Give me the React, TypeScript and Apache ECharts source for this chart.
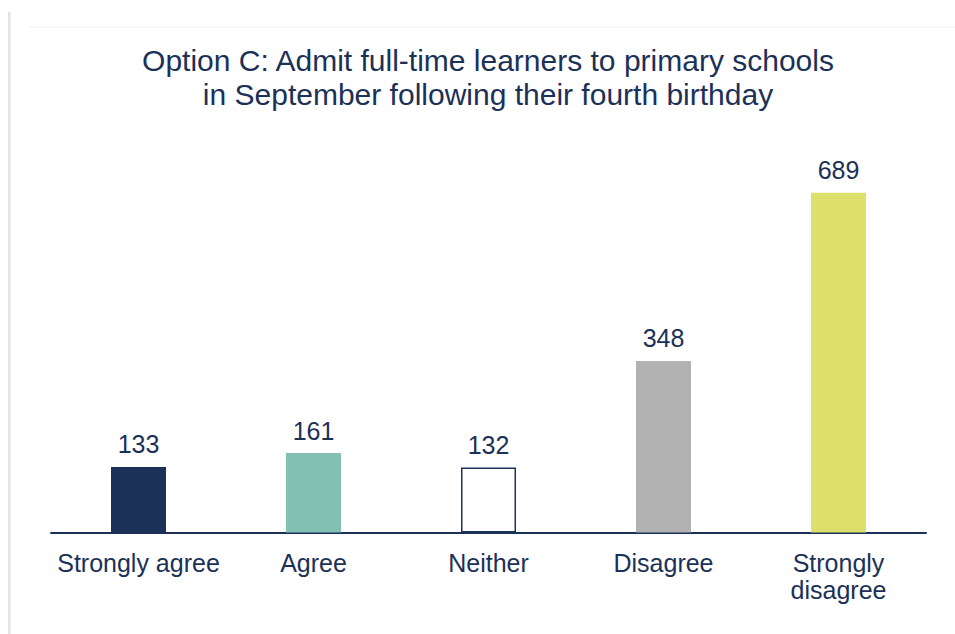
import React, { useEffect, useRef } from "react";
import * as echarts from "echarts";

const categories = ["Strongly agree", "Agree", "Neither", "Disagree", "Strongly\ndisagree"];
const values = [133, 161, 132, 348, 689];
const barColors = ["#1b3157", "#82c0b4", "#ffffff", "#b2b2b2", "#dde16b"];
const titleLines = [
  "Option C: Admit full-time learners to primary schools",
  "in September following their fourth birthday",
];

const NAVY = "#1b3157";

export default function App() {
  const ref = useRef<HTMLDivElement>(null);
  useEffect(() => {
    if (!ref.current) return;
    const chart = echarts.init(ref.current, null, { renderer: "svg" });
    chart.setOption({
      animation: false,
      backgroundColor: "#ffffff",
      title: {
        text: titleLines.join("\n"),
        left: 483,
        top: 39,
        textAlign: "center",
        textStyle: {
          fontFamily: "Liberation Sans, Arial, sans-serif",
          fontSize: 30,
          fontWeight: "normal",
          color: NAVY,
          lineHeight: 33.5,
        },
      },
      graphic: [
        { type: "rect", shape: { x: 8, y: 12, width: 2.5, height: 630 }, style: { fill: "#e2e2e2" } },
        { type: "rect", shape: { x: 29, y: 26.5, width: 930, height: 1 }, style: { fill: "#f2f2f2" } },
      ],
      grid: { left: 51, right: 29, top: 138, bottom: 101.5 },
      xAxis: {
        type: "category",
        data: categories,
        axisLine: { lineStyle: { color: NAVY, width: 2 } },
        axisTick: { show: false },
        axisLabel: {
          color: NAVY,
          fontSize: 25,
          fontFamily: "Liberation Sans, Arial, sans-serif",
          lineHeight: 27,
          margin: 17,
          interval: 0,
        },
      },
      yAxis: {
        type: "value",
        min: 0,
        max: 800,
        show: false,
        splitLine: { show: false },
      },
      series: [
        {
          type: "bar",
          barWidth: 55,
          data: values.map((v, i) => ({
            value: v,
            itemStyle: {
              color: barColors[i],
              borderColor: i === 2 ? NAVY : barColors[i],
              borderWidth: i === 2 ? 1.5 : 0,
            },
          })),
          label: {
            show: true,
            position: "top",
            distance: 10,
            color: NAVY,
            fontSize: 25,
            fontFamily: "Liberation Sans, Arial, sans-serif",
          },
        },
      ],
    });
    return () => chart.dispose();
  }, []);
  return (
    <div
      ref={ref}
      style={{ position: "absolute", left: 0, top: 0, width: 955, height: 634 }}
    />
  );
}
